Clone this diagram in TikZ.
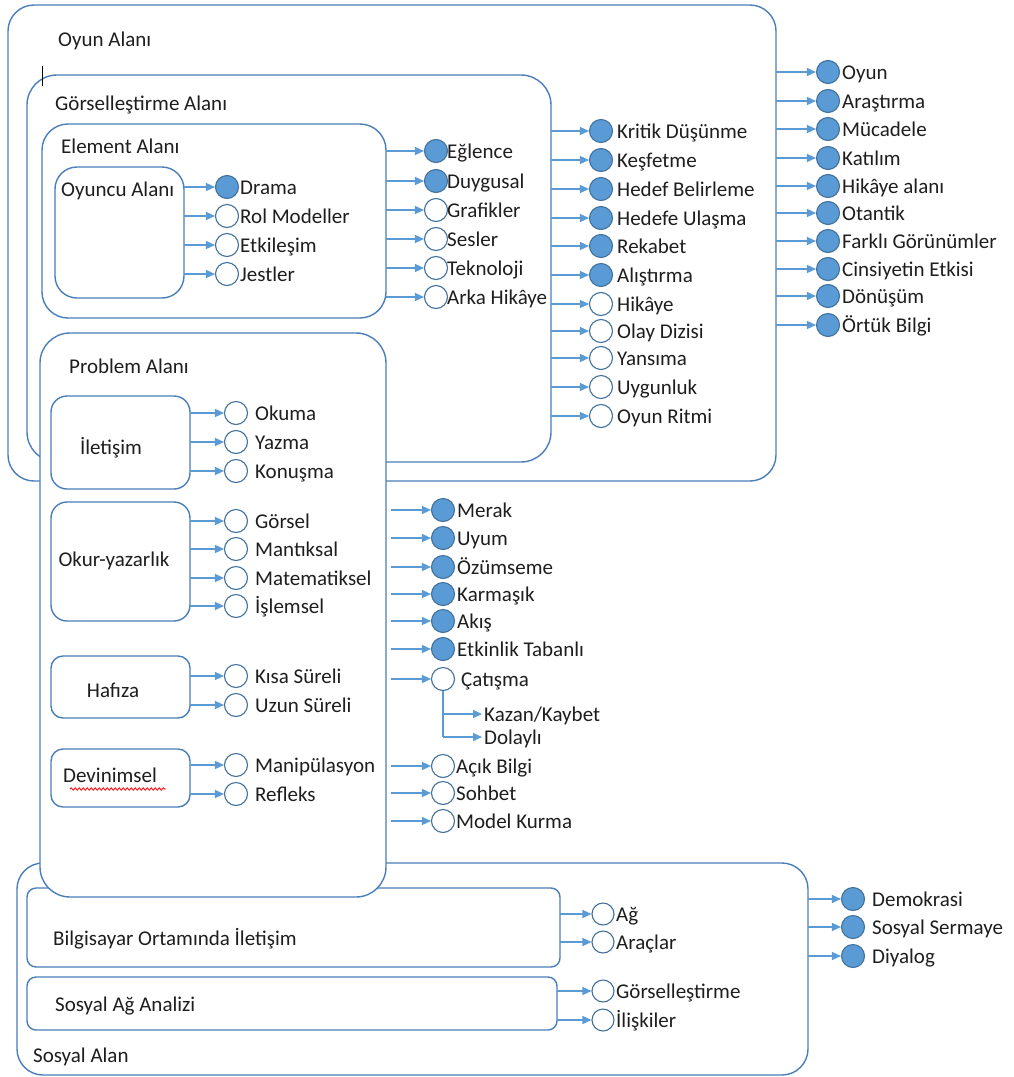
\documentclass[tikz,border=0pt]{standalone}
\usepackage{fontspec}
\setmainfont{Carlito}
\usetikzlibrary{arrows.meta,calc,decorations.pathmorphing}
\definecolor{boxc}{HTML}{4A7EBB}
\definecolor{arrc}{HTML}{5B9BD5}
\definecolor{circf}{HTML}{5B9BD5}
\definecolor{circd}{HTML}{41719C}
\definecolor{txt}{HTML}{1E1E1E}
\newcommand{\leaf}[6]{%
  \node[#4] (#1) at (#2,#3) {};
  \node[lbl] (#1t) at ($(#1.center)+(#5,7)$) {#6};
}
\begin{document}
\begin{tikzpicture}[x=1pt,y=-1pt,
  font=\fontsize{21}{25}\selectfont,
  area/.style={draw=boxc, line width=1.4pt, fill=white, inner sep=0pt, outer sep=0pt},
  lbl/.style={anchor=base west, inner sep=0pt, text=txt},
  ctr/.style={inner sep=0pt, text=txt},
  full/.style={circle, draw=circd, fill=circf, line width=1.1pt, minimum size=23pt, inner sep=0pt},
  hollow/.style={circle, draw=circd, fill=white, line width=1.1pt, minimum size=23pt, inner sep=0pt},
  hollows/.style={hollow, minimum size=22pt},
  arr/.style={draw=arrc, line width=1.4pt, -{Triangle[length=9pt,width=8pt]}},
  ln/.style={draw=arrc, line width=1.4pt}]
\useasboundingbox (0,0) rectangle (1013,1077);
\fill[white] (0,0) rectangle (1013,1077);

% ---------- Oyun Alani / Gorsellestirme / Element / Oyuncu ----------
\node[area, rounded corners=26pt, minimum width=768pt, minimum height=476pt] (oyun) at (392,243) {};
\node[lbl] (oyunL) at (58,46) {Oyun Alanı};
\node[area, rounded corners=30pt, minimum width=524pt, minimum height=387pt] (gors) at (289,268.5) {};
\node[lbl] (gorsL) at (55,110) {Görselleştirme Alanı};
\node[area, rounded corners=26pt, minimum width=344pt, minimum height=194pt] (elem) at (214,221) {};
\node[lbl] (elemL) at (61,153) {Element Alanı};
\node[area, rounded corners=22pt, minimum width=129pt, minimum height=131pt] (oyuncu) at (119.5,232.5) {};
\node[lbl] (oyuncuL) at (61,196) {Oyuncu Alanı};

\draw[line width=0.9pt, black] (42,66) -- (42,86);

% Oyuncu items
\leaf{d1}{227}{187}{full}{13}{Drama}
\leaf{d2}{227}{216}{hollow}{13}{Rol Modeller}
\leaf{d3}{227}{245}{hollow}{13}{Etkileşim}
\leaf{d4}{227}{274}{hollow}{13}{Jestler}
\foreach \n in {d1,d2,d3,d4} \draw[arr] (oyuncu.east |- \n) -- (\n.west);

% Element items
\leaf{e1}{436}{151}{full}{11}{Eğlence}
\leaf{e2}{436}{181}{full}{11}{Duygusal}
\leaf{e3}{436}{210}{hollow}{11}{Grafikler}
\leaf{e4}{436}{239}{hollow}{11}{Sesler}
\leaf{e5}{436}{268}{hollow}{11}{Teknoloji}
\leaf{e6}{436}{297}{hollow}{11}{Arka Hikâye}
\foreach \n in {e1,e2,e3,e4,e5,e6} \draw[arr] (elem.east |- \n) -- (\n.west);

% Gorsellestirme items
\leaf{g1}{601}{131}{full}{16}{Kritik Düşünme}
\leaf{g2}{601}{160}{full}{16}{Keşfetme}
\leaf{g3}{601}{189}{full}{16}{Hedef Belirleme}
\leaf{g4}{601}{218}{full}{16}{Hedefe Ulaşma}
\leaf{g5}{601}{246}{full}{16}{Rekabet}
\leaf{g6}{601}{275}{full}{16}{Alıştırma}
\leaf{g7}{601}{304}{hollow}{16}{Hikâye}
\leaf{g8}{601}{331}{hollow}{16}{Olay Dizisi}
\leaf{g9}{601}{358}{hollow}{16}{Yansıma}
\leaf{g10}{601}{387}{hollow}{16}{Uygunluk}
\leaf{g11}{601}{416}{hollow}{16}{Oyun Ritmi}
\foreach \n in {g1,g2,g3,g4,g5,g6,g7,g8,g9,g10,g11} \draw[arr] (gors.east |- \n) -- (\n.west);

% Oyun items
\leaf{o1}{828}{72}{full}{14}{Oyun}
\leaf{o2}{828}{101}{full}{14}{Araştırma}
\leaf{o3}{828}{129}{full}{14}{Mücadele}
\leaf{o4}{828}{158}{full}{14}{Katılım}
\leaf{o5}{828}{186}{full}{14}{Hikâye alanı}
\leaf{o6}{828}{213}{full}{14}{Otantik}
\leaf{o7}{828}{241}{full}{14}{Farklı Görünümler}
\leaf{o8}{828}{269}{full}{14}{Cinsiyetin Etkisi}
\leaf{o9}{828}{296}{full}{14}{Dönüşüm}
\leaf{o10}{828}{325}{full}{14}{Örtük Bilgi}
\foreach \n in {o1,o2,o3,o4,o5,o6,o7,o8,o9,o10} \draw[arr] (oyun.east |- \n) -- (\n.west);

% ---------- Sosyal Alan ----------
\node[area, rounded corners=26pt, minimum width=791pt, minimum height=212pt] (sosyal) at (412.5,969) {};
\node[lbl] (sosyalL) at (33,1062) {Sosyal Alan};
\node[area, rounded corners=9pt, minimum width=533pt, minimum height=79pt] (bilg) at (293.5,927.5) {};
\node[lbl] (bilgL) at (53,945) {Bilgisayar Ortamında İletişim};
\node[area, rounded corners=9pt, minimum width=530pt, minimum height=53pt] (sag) at (292,1003.5) {};
\node[lbl] (sagL) at (55,1011) {Sosyal Ağ Analizi};

\leaf{s1}{603}{914}{hollows}{13}{Ağ}
\leaf{s2}{603}{942}{hollows}{13}{Araçlar}
\leaf{s3}{603}{991}{hollows}{13}{Görselleştirme}
\leaf{s4}{603}{1020}{hollows}{13}{İlişkiler}
\foreach \n in {s1,s2} \draw[arr] (bilg.east |- \n) -- (\n.west);
\foreach \n in {s3,s4} \draw[arr] (sag.east |- \n) -- (\n.west);

\leaf{r1}{853}{899}{full}{19}{Demokrasi}
\leaf{r2}{853}{927}{full}{19}{Sosyal Sermaye}
\leaf{r3}{853}{956}{full}{19}{Diyalog}
\foreach \n in {r1,r2,r3} \draw[arr] (sosyal.east |- \n) -- (\n.west);

% ---------- Problem Alani ----------
\node[area, rounded corners=30pt, minimum width=346pt, minimum height=564pt] (prob) at (213,615) {};
\node[lbl] (probL) at (69,373) {Problem Alanı};
\node[area, rounded corners=16pt, minimum width=139pt, minimum height=93pt] (ilet) at (120.5,442.5) {};
\node[ctr] (iletL) at (111,448) {İletişim};
\node[area, rounded corners=16pt, minimum width=139pt, minimum height=119pt] (okur) at (120.5,561.5) {};
\node[ctr] (okurL) at (114,561) {Okur-yazarlık};
\node[area, rounded corners=12pt, minimum width=139pt, minimum height=62pt] (hafiza) at (120.5,687) {};
\node[ctr] (hafizaL) at (113,690) {Hafıza};
\node[area, rounded corners=12pt, minimum width=139pt, minimum height=58pt] (devin) at (120.5,778) {};
\node[ctr] (devinL) at (110,775) {Devinimsel};
\draw[red, line width=0.8pt, decorate, decoration={snake, amplitude=1.2pt, segment length=4pt}] (70,789) -- (166,789);

\leaf{i1}{236}{413}{hollow}{19}{Okuma}
\leaf{i2}{236}{442}{hollow}{19}{Yazma}
\leaf{i3}{236}{471}{hollow}{19}{Konuşma}
\leaf{k1}{236}{521}{hollow}{19}{Görsel}
\leaf{k2}{236}{549}{hollow}{19}{Mantıksal}
\leaf{k3}{236}{578}{hollow}{19}{Matematiksel}
\leaf{k4}{236}{606}{hollow}{19}{İşlemsel}
\leaf{h1}{236}{676}{hollow}{19}{Kısa Süreli}
\leaf{h2}{236}{705}{hollow}{19}{Uzun Süreli}
\leaf{v1}{236}{765}{hollow}{19}{Manipülasyon}
\leaf{v2}{236}{794}{hollow}{19}{Refleks}
\foreach \n in {i1,i2,i3} \draw[arr] (ilet.east |- \n) -- (\n.west);
\foreach \n in {k1,k2,k3,k4} \draw[arr] (okur.east |- \n) -- (\n.west);
\foreach \n in {h1,h2} \draw[arr] (hafiza.east |- \n) -- (\n.west);
\foreach \n in {v1,v2} \draw[arr] (devin.east |- \n) -- (\n.west);

\leaf{p1}{443}{510}{full}{14}{Merak}
\leaf{p2}{443}{538}{full}{14}{Uyum}
\leaf{p3}{443}{567}{full}{14}{Özümseme}
\leaf{p4}{443}{594}{full}{14}{Karmaşık}
\leaf{p5}{443}{621}{full}{14}{Akış}
\leaf{p6}{443}{649}{full}{14}{Etkinlik Tabanlı}
\leaf{p7}{443}{679}{hollow}{18}{Çatışma}
\leaf{p8}{443}{766}{hollow}{13}{Açık Bilgi}
\leaf{p9}{443}{793}{hollow}{13}{Sohbet}
\leaf{p10}{443}{821}{hollow}{13}{Model Kurma}
\foreach \n in {p1,p2,p3,p4,p5,p6,p7,p8,p9,p10} \draw[arr] ([xshift=5pt]prob.east |- \n) -- (\n.west);

\coordinate (kz) at (482,714);
\coordinate (dl) at (482,737);
\draw[ln] (p7.south) -- (p7.south |- dl);
\draw[arr] (p7.south |- kz) -- (kz);
\draw[arr] (p7.south |- dl) -- (dl);
\node[lbl] (kzt) at (484,721) {Kazan/Kaybet};
\node[lbl] (dlt) at (484,744) {Dolaylı};
\end{tikzpicture}
\end{document}
